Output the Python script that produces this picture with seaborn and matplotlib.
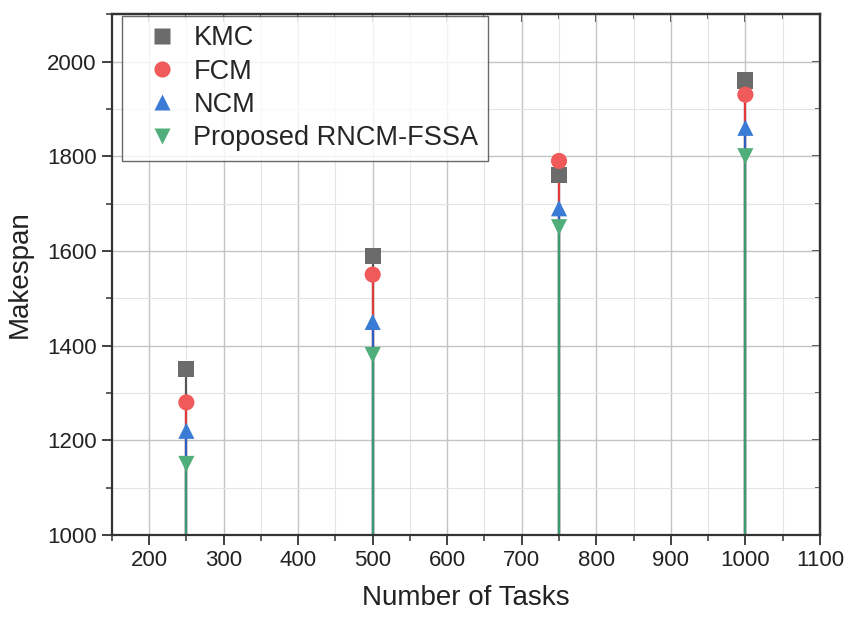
import matplotlib
matplotlib.use("Agg")
import matplotlib.pyplot as plt
import seaborn as sns
import pandas as pd
import numpy as np
from matplotlib.ticker import MultipleLocator

tasks = [250, 500, 750, 1000]
kmc = [1350, 1590, 1760, 1960]
fcm = [1280, 1550, 1790, 1930]
ncm = [1220, 1450, 1690, 1860]
proposed = [1150, 1380, 1650, 1800]
series_names = ["KMC", "FCM", "NCM", "Proposed RNCM-FSSA"]
xticks = [200, 300, 400, 500, 600, 700, 800, 900, 1000, 1100]

sns.set_theme(style="white")
plt.rcParams['font.family'] = ['Liberation Sans', 'DejaVu Sans']

rows = []
for name, vals in zip(series_names, [kmc, fcm, ncm, proposed]):
    for t, v in zip(tasks, vals):
        rows.append({"Tasks": t, "Makespan": v, "Method": name})
df = pd.DataFrame(rows)

colors = {"KMC": "#6b6b6b", "FCM": "#f05a5a", "NCM": "#3a7bd5", "Proposed RNCM-FSSA": "#4fae7a"}
stem_colors = {"KMC": "#555555", "FCM": "#e03a3a", "NCM": "#2f5fc0", "Proposed RNCM-FSSA": "#3a9a70"}
markers = {"KMC": "s", "FCM": "o", "NCM": "^", "Proposed RNCM-FSSA": "v"}

fig = plt.figure(figsize=(8.47, 6.17), dpi=100)
ax = fig.add_axes([0.132, 0.133, 0.836, 0.844])

for name in series_names:
    sub = df[df.Method == name]
    ax.vlines(sub.Tasks, 1000, sub.Makespan, color=stem_colors[name], lw=1.6, zorder=2)

sns.scatterplot(data=df, x="Tasks", y="Makespan", hue="Method", style="Method",
                palette=colors, markers=markers, s=135, edgecolor="none", ax=ax, zorder=3,
                legend=True)

ax.set_xlim(150, 1100)
ax.set_ylim(1000, 2100)
ax.set_xticks(xticks)
ax.xaxis.set_minor_locator(MultipleLocator(50))
ax.yaxis.set_major_locator(MultipleLocator(200))
ax.yaxis.set_minor_locator(MultipleLocator(100))
ax.grid(which="major", color="#c4c4c4", lw=1.0)
ax.grid(which="minor", color="#e4e4e4", lw=0.8)
ax.set_axisbelow(True)

for s in ax.spines.values():
    s.set_color("#333333")
    s.set_linewidth(1.6)

ax.tick_params(axis="both", which="major", direction="out", length=7, width=1.3,
               labelsize=16, color="#333333", labelcolor="#222222", pad=4,
               bottom=True, left=True, top=False, right=False)
ax.tick_params(axis="both", which="minor", direction="out", length=4, width=1.1,
               color="#333333", bottom=True, left=True, top=False, right=False)

ax.set_xlabel("Number of Tasks", fontsize=20, labelpad=10, color="#222222")
ax.set_ylabel("Makespan", fontsize=20, labelpad=10, color="#222222")

handles, labels = ax.get_legend_handles_labels()
leg = ax.legend(handles, labels, loc="upper left", bbox_to_anchor=(0.014, 0.997),
                borderaxespad=0, fontsize=19.5, frameon=True,
                fancybox=False, edgecolor="#444444", markerscale=1.0,
                handlelength=2.3, handletextpad=0.0, labelspacing=0.27,
                borderpad=0.35)
leg.get_frame().set_linewidth(1.0)

# mirrored inward ticks on top/right
secx = ax.secondary_xaxis("top")
secx.set_xticks(xticks)
secx.xaxis.set_minor_locator(MultipleLocator(50))
secx.tick_params(which="major", direction="in", length=6, width=1.3, color="#333333",
                 top=True, labeltop=False)
secx.tick_params(which="minor", direction="in", length=3.5, width=1.1, color="#333333", top=True)
secx.spines["top"].set_linewidth(1.6)
secx.spines["top"].set_color("#333333")
secy = ax.secondary_yaxis("right")
secy.yaxis.set_major_locator(MultipleLocator(200))
secy.yaxis.set_minor_locator(MultipleLocator(100))
secy.tick_params(which="major", direction="in", length=6, width=1.3, color="#333333",
                 right=True, labelright=False)
secy.tick_params(which="minor", direction="in", length=3.5, width=1.1, color="#333333", right=True)
secy.spines["right"].set_linewidth(1.6)
secy.spines["right"].set_color("#333333")

fig.savefig("out.png", dpi=100)
